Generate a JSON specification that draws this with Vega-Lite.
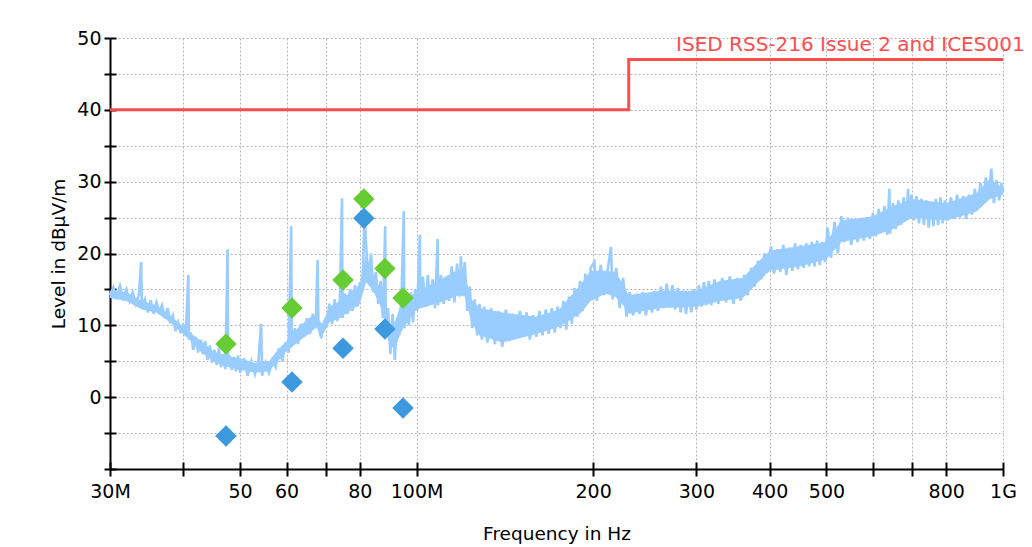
{
  "$schema": "https://vega.github.io/schema/vega-lite/v6.json",
  "width": 893,
  "height": 431,
  "autosize": {"type": "none"},
  "padding": {"left": 110, "top": 38, "right": 29, "bottom": 78},
  "background": "white",
  "config": {
    "view": {"stroke": null},
    "axis": {
      "domainColor": "black", "domainWidth": 2,
      "tickColor": "black", "tickWidth": 2,
      "labelFont": "DejaVu Sans", "labelFontSize": 19, "labelColor": "black",
      "titleFont": "DejaVu Sans", "titleFontSize": 18.5, "titleColor": "black", "titleFontWeight": "normal",
      "gridColor": "#b4b4b4", "gridDash": [2, 2], "gridWidth": 1
    }
  },
  "datasets": {
    "band": [
      {"f":30,"lo":13.8,"hi":14.8},{"f":32,"lo":13.4,"hi":14.6},{"f":34,"lo":12.2,"hi":13.4},{"f":36,"lo":11.8,"hi":12.8},{"f":38,"lo":10.4,"hi":11.4},{"f":39.5,"lo":9.2,"hi":10.2},{"f":41,"lo":8.0,"hi":9.0},{"f":43,"lo":6.2,"hi":7.8},{"f":45,"lo":5.0,"hi":6.4},{"f":47,"lo":4.3,"hi":5.8},{"f":50,"lo":3.8,"hi":5.4},{"f":53,"lo":3.4,"hi":4.8},{"f":56,"lo":3.6,"hi":5.0},{"f":58,"lo":5.0,"hi":6.6},{"f":60,"lo":6.4,"hi":7.8},{"f":63,"lo":7.8,"hi":9.8},{"f":66,"lo":9.0,"hi":11.2},{"f":67.5,"lo":9.8,"hi":11.2},{"f":69,"lo":8.6,"hi":10.2},{"f":71,"lo":10.4,"hi":12.6},{"f":74,"lo":11.0,"hi":13.4},{"f":77,"lo":12.0,"hi":14.6},{"f":80,"lo":13.0,"hi":15.6},{"f":82,"lo":16.0,"hi":20.0},{"f":84,"lo":15.0,"hi":17.0},{"f":86,"lo":13.4,"hi":15.8},{"f":88,"lo":11.4,"hi":12.8},{"f":90,"lo":7.0,"hi":10.0},{"f":92,"lo":7.0,"hi":10.6},{"f":94,"lo":9.0,"hi":13.0},{"f":96,"lo":10.2,"hi":13.8},{"f":100,"lo":12.2,"hi":14.6},{"f":110,"lo":13.2,"hi":16.4},{"f":118,"lo":14.2,"hi":17.8},{"f":121,"lo":14.0,"hi":17.0},{"f":124,"lo":10.4,"hi":13.6},{"f":128,"lo":8.6,"hi":12.4},{"f":140,"lo":7.6,"hi":11.8},{"f":160,"lo":8.8,"hi":11.2},{"f":175,"lo":9.8,"hi":12.2},{"f":190,"lo":11.6,"hi":15.6},{"f":198,"lo":13.4,"hi":17.6},{"f":210,"lo":14.4,"hi":17.6},{"f":218,"lo":14.0,"hi":17.4},{"f":225,"lo":12.8,"hi":15.8},{"f":230,"lo":11.6,"hi":14.2},{"f":260,"lo":12.4,"hi":14.8},{"f":300,"lo":12.6,"hi":14.8},{"f":330,"lo":13.4,"hi":16.2},{"f":360,"lo":13.8,"hi":16.6},{"f":380,"lo":15.8,"hi":18.6},{"f":400,"lo":17.6,"hi":20.4},{"f":450,"lo":18.2,"hi":21.0},{"f":500,"lo":19.2,"hi":21.6},{"f":530,"lo":21.6,"hi":24.6},{"f":600,"lo":22.4,"hi":25.2},{"f":650,"lo":23.4,"hi":26.6},{"f":700,"lo":25.0,"hi":27.6},{"f":800,"lo":24.6,"hi":27.0},{"f":900,"lo":25.8,"hi":28.4},{"f":950,"lo":27.6,"hi":30.4},{"f":1000,"lo":28.2,"hi":29.0}
    ],
    "spec": [
      {"f":30.0,"v":14.2},{"f":30.4,"v":15.3},{"f":30.8,"v":14.0},{"f":31.2,"v":15.5},{"f":31.6,"v":13.8},{"f":32.0,"v":15.0},{"f":32.4,"v":13.4},{"f":32.8,"v":14.6},{"f":33.2,"v":13.0},{"f":33.6,"v":14.2},{"f":33.9,"v":18.8},{"f":34.0,"v":12.5},{"f":34.4,"v":13.6},{"f":34.8,"v":11.8},{"f":35.2,"v":13.5},{"f":35.6,"v":11.6},{"f":36.0,"v":13.2},{"f":36.4,"v":11.9},{"f":36.8,"v":12.8},{"f":37.2,"v":11.0},{"f":37.6,"v":12.4},{"f":38.0,"v":10.6},{"f":38.4,"v":11.4},{"f":38.8,"v":9.2},{"f":39.2,"v":10.4},{"f":39.6,"v":8.9},{"f":40.0,"v":10.2},{"f":40.4,"v":8.5},{"f":40.8,"v":17.0},{"f":40.9,"v":8.0},{"f":41.2,"v":9.0},{"f":41.6,"v":6.6},{"f":42.0,"v":8.4},{"f":42.4,"v":6.2},{"f":42.8,"v":8.0},{"f":43.2,"v":6.0},{"f":43.6,"v":7.8},{"f":44.0,"v":5.2},{"f":44.4,"v":7.2},{"f":44.8,"v":4.8},{"f":45.2,"v":6.6},{"f":45.6,"v":4.5},{"f":46.0,"v":6.8},{"f":46.4,"v":4.2},{"f":46.8,"v":6.0},{"f":47.2,"v":3.9},{"f":47.6,"v":20.6},{"f":47.7,"v":4.5},{"f":48.0,"v":5.8},{"f":48.4,"v":3.8},{"f":48.8,"v":5.6},{"f":49.2,"v":3.6},{"f":49.6,"v":5.8},{"f":50.0,"v":3.4},
      {"f":50.75,"v":5.4},{"f":51.5,"v":3.0},{"f":52.25,"v":5.0},{"f":53.0,"v":3.2},{"f":53.75,"v":5.2},{"f":54.3,"v":10.2},{"f":54.5,"v":3.0},{"f":55.25,"v":4.8},{"f":56.0,"v":3.4},{"f":56.75,"v":5.2},{"f":57.5,"v":4.2},{"f":58.25,"v":6.8},{"f":59.0,"v":5.0},{"f":59.75,"v":7.6},{"f":60.5,"v":6.2},{"f":61.1,"v":23.8},{"f":61.25,"v":7.0},{"f":62.0,"v":9.6},{"f":62.75,"v":7.4},{"f":63.5,"v":10.2},{"f":64.25,"v":8.4},{"f":65.0,"v":11.0},{"f":65.75,"v":8.8},{"f":66.5,"v":11.6},{"f":67.25,"v":9.6},{"f":67.8,"v":19.1},{"f":68.0,"v":9.8},{"f":68.75,"v":8.2},{"f":69.5,"v":10.4},{"f":70.25,"v":10.0},{"f":71.0,"v":13.0},{"f":71.75,"v":10.2},{"f":72.5,"v":13.6},{"f":73.25,"v":10.6},{"f":74.0,"v":13.8},{"f":74.6,"v":27.7},{"f":74.75,"v":11.0},{"f":75.5,"v":14.4},{"f":76.25,"v":11.6},{"f":77.0,"v":15.0},{"f":77.75,"v":12.0},{"f":78.5,"v":15.6},{"f":79.25,"v":12.6},{"f":80.0,"v":16.0},
      {"f":80.8,"v":14.8},{"f":81.5,"v":25.5},{"f":82.0,"v":21.2},{"f":82.8,"v":16.0},{"f":83.6,"v":20.0},{"f":84.4,"v":14.6},{"f":85.2,"v":17.4},{"f":86.0,"v":13.0},{"f":86.8,"v":16.2},{"f":87.6,"v":11.0},{"f":88.4,"v":23.8},{"f":88.6,"v":9.0},{"f":89.4,"v":12.4},{"f":90.2,"v":6.0},{"f":91.0,"v":11.6},{"f":91.8,"v":5.2},{"f":92.6,"v":11.0},{"f":93.4,"v":8.6},{"f":94.2,"v":13.4},{"f":95.1,"v":25.9},{"f":95.3,"v":9.6},{"f":96.2,"v":14.2},{"f":97.0,"v":10.0},{"f":97.8,"v":14.6},{"f":98.6,"v":10.4},{"f":99.4,"v":15.0},{"f":100.2,"v":12.0},{"f":101.3,"v":22.6},{"f":101.5,"v":12.6},{"f":102.5,"v":16.8},{"f":103.5,"v":12.6},{"f":104.5,"v":17.0},{"f":105.5,"v":13.0},{"f":106.5,"v":16.4},{"f":107.5,"v":12.4},{"f":108.6,"v":22.0},{"f":108.8,"v":12.8},{"f":110.0,"v":17.0},{"f":111.2,"v":13.0},{"f":112.4,"v":16.6},{"f":113.6,"v":13.4},{"f":114.8,"v":18.2},{"f":116.0,"v":13.2},{"f":117.2,"v":18.6},{"f":118.4,"v":14.0},{"f":119.0,"v":19.6},{"f":119.6,"v":15.0},{"f":120.8,"v":18.8},{"f":122.0,"v":12.0},{"f":123.2,"v":15.4},{"f":124.4,"v":9.6},{"f":125.6,"v":13.6},{"f":126.8,"v":8.6},{"f":128.0,"v":13.0},{"f":129.2,"v":8.0},
      {"f":130.4,"v":12.6},{"f":132,"v":7.6},{"f":134,"v":12.4},{"f":136,"v":7.4},{"f":138,"v":12.0},{"f":140,"v":7.0},{"f":142,"v":12.2},{"f":144,"v":7.8},{"f":146,"v":11.6},{"f":148,"v":8.2},{"f":150,"v":12.0},{"f":152,"v":8.6},{"f":154,"v":11.8},{"f":156,"v":8.0},{"f":158,"v":11.4},{"f":160,"v":8.4},{"f":162,"v":12.0},{"f":164,"v":8.6},{"f":166,"v":12.2},{"f":168,"v":8.8},{"f":170,"v":12.4},{"f":172,"v":9.0},{"f":174,"v":12.6},{"f":176,"v":9.6},{"f":178,"v":13.4},{"f":180,"v":9.4},{"f":182,"v":14.0},{"f":184,"v":10.2},{"f":186,"v":15.2},{"f":188,"v":11.2},{"f":190,"v":16.2},{"f":192,"v":12.0},{"f":194,"v":17.2},{"f":196,"v":13.2},{"f":198,"v":18.0},
      {"f":201,"v":18.8},{"f":203,"v":13.4},{"f":206,"v":18.4},{"f":209,"v":14.2},{"f":212,"v":18.0},{"f":214.5,"v":20.9},{"f":216,"v":13.6},{"f":219,"v":18.0},{"f":222,"v":12.4},{"f":225,"v":16.6},{"f":228,"v":11.2},{"f":231,"v":14.6},{"f":234,"v":11.4},{"f":237,"v":14.4},{"f":240,"v":11.6},{"f":243,"v":14.6},{"f":246,"v":11.4},{"f":249,"v":14.2},{"f":252,"v":11.8},{"f":255,"v":14.8},{"f":258,"v":12.0},{"f":261,"v":15.4},{"f":264,"v":12.4},{"f":267,"v":15.8},{"f":270,"v":12.6},{"f":273,"v":15.6},{"f":276,"v":12.2},{"f":279,"v":15.2},{"f":282,"v":11.8},{"f":285,"v":14.8},{"f":288,"v":11.6},{"f":291,"v":14.6},{"f":294,"v":11.8},{"f":297,"v":15.0},{"f":300,"v":12.2},{"f":303,"v":15.6},{"f":306,"v":12.6},{"f":309,"v":16.0},{"f":312,"v":12.8},{"f":315,"v":16.2},{"f":318,"v":12.8},
      {"f":322,"v":16.4},{"f":327,"v":13.0},{"f":332,"v":16.6},{"f":337,"v":13.2},{"f":342,"v":16.8},{"f":347,"v":13.0},{"f":352,"v":16.6},{"f":357,"v":13.4},{"f":362,"v":17.0},{"f":367,"v":14.2},{"f":372,"v":18.0},{"f":377,"v":15.4},{"f":382,"v":19.0},{"f":387,"v":16.4},{"f":392,"v":20.0},{"f":397,"v":17.4},{"f":402,"v":21.0},{"f":407,"v":17.2},{"f":412,"v":20.6},{"f":417,"v":17.4},{"f":422,"v":21.2},{"f":427,"v":17.0},{"f":432,"v":20.8},{"f":437,"v":17.6},{"f":442,"v":21.4},{"f":447,"v":17.8},{"f":452,"v":21.2},{"f":457,"v":18.0},{"f":462,"v":21.4},{"f":467,"v":18.2},{"f":472,"v":21.6},{"f":477,"v":18.2},{"f":482,"v":21.8},{"f":487,"v":18.4},{"f":492,"v":21.6},{"f":497,"v":18.8},
      {"f":502,"v":23.6},{"f":509,"v":19.4},{"f":516,"v":24.4},{"f":523,"v":20.0},{"f":530,"v":25.2},{"f":537,"v":21.6},{"f":544,"v":25.0},{"f":551,"v":21.2},{"f":558,"v":24.6},{"f":565,"v":21.6},{"f":572,"v":24.8},{"f":579,"v":21.8},{"f":586,"v":24.6},{"f":593,"v":22.0},{"f":600,"v":25.6},{"f":607,"v":22.4},{"f":614,"v":26.2},{"f":621,"v":23.0},{"f":628,"v":26.6},{"f":635,"v":22.6},{"f":640,"v":29.0},{"f":642,"v":22.8},{"f":649,"v":27.0},{"f":656,"v":23.4},{"f":663,"v":27.4},{"f":670,"v":24.0},{"f":677,"v":27.8},{"f":684,"v":24.6},{"f":689,"v":29.0},{"f":691,"v":24.8},{"f":698,"v":28.2},{"f":705,"v":24.6},{"f":712,"v":28.0},{"f":719,"v":24.2},{"f":726,"v":27.6},{"f":733,"v":24.0},{"f":740,"v":27.4},{"f":747,"v":23.6},{"f":754,"v":27.2},{"f":761,"v":23.8},{"f":768,"v":27.6},{"f":775,"v":24.0},{"f":782,"v":27.8},{"f":789,"v":24.2},{"f":796,"v":27.4},
      {"f":805,"v":24.6},{"f":815,"v":27.8},{"f":825,"v":24.8},{"f":835,"v":28.2},{"f":845,"v":25.0},{"f":855,"v":28.0},{"f":865,"v":24.8},{"f":875,"v":28.2},{"f":885,"v":25.4},{"f":895,"v":29.0},{"f":905,"v":26.2},{"f":915,"v":29.8},{"f":925,"v":27.0},{"f":935,"v":30.6},{"f":945,"v":27.6},{"f":955,"v":31.8},{"f":965,"v":27.0},{"f":975,"v":30.2},{"f":985,"v":27.4},{"f":993,"v":29.8},{"f":1000,"v":28.6}
    ],
    "lim": [
      {"i":0,"f":30,"v":40},{"i":1,"f":230,"v":40},{"i":2,"f":230,"v":47},{"i":3,"f":1000,"v":47}
    ],
    "qp": [
      {"f":47.3,"v":7.4},{"f":61.3,"v":12.4},{"f":74.9,"v":16.3},{"f":81.3,"v":27.6},{"f":88.3,"v":17.9},{"f":94.8,"v":13.8}
    ],
    "av": [
      {"f":47.3,"v":-5.4},{"f":61.3,"v":2.1},{"f":74.9,"v":6.8},{"f":81.3,"v":24.9},{"f":88.3,"v":9.5},{"f":94.8,"v":-1.5}
    ],
    "lbl": [
      {"f":277,"v":49,"t":"ISED RSS-216 Issue 2 and ICES001"}
    ]
  },
  "resolve": {"axis": {"x": "independent", "y": "independent"}},
  "layer": [
    {
      "data": {"name": "band"},
      "mark": {"type": "area", "color": "#99ccff", "opacity": 1},
      "encoding": {
        "x": {
          "field": "f", "type": "quantitative",
          "scale": {"type": "log", "domain": [30, 1000], "nice": false},
          "axis": {
            "orient": "bottom",
            "values": [30, 40, 50, 60, 70, 80, 100, 200, 300, 400, 500, 600, 700, 800, 1000],
            "labelExpr": "datum.value==30?'30M':datum.value==100?'100M':datum.value==1000?'1G':(datum.value==40||datum.value==70||datum.value==600||datum.value==700)?'':''+datum.value",
            "labelOverlap": false, "labelBound": false, "labelFlush": false,
            "tickSize": 7, "labelPadding": 6,
            "grid": true,
            "title": "Frequency in Hz",
            "titleX": 446.5, "titleY": 64, "titleBaseline": "middle", "titleAlign": "center"
          }
        },
        "y": {
          "field": "lo", "type": "quantitative",
          "scale": {"domain": [-10, 50], "nice": false, "zero": false},
          "axis": {
            "orient": "left",
            "values": [-10, -5, 0, 5, 10, 15, 20, 25, 30, 35, 40, 45, 50],
            "labelExpr": "(datum.value>=0 && datum.value%10==0)?''+datum.value:''",
            "labelOverlap": false, "labelBound": false, "labelFlush": false,
            "tickSize": 6, "labelPadding": 3,
            "grid": true,
            "title": "Level in dBµV/m",
            "titleX": -52, "titleY": 215.5, "titleAngle": 270, "titleBaseline": "middle", "titleAlign": "center"
          }
        },
        "y2": {"field": "hi"}
      }
    },
    {
      "data": {"name": "spec"},
      "mark": {"type": "line", "color": "#99ccff", "strokeWidth": 2.6},
      "encoding": {
        "x": {"field": "f", "type": "quantitative", "axis": null},
        "y": {"field": "v", "type": "quantitative", "axis": null}
      }
    },
    {
      "data": {"name": "lim"},
      "mark": {"type": "line", "color": "#ff4c4c", "strokeWidth": 3},
      "encoding": {
        "x": {
          "field": "f", "type": "quantitative",
          "axis": {"orient": "bottom", "values": [30, 40, 50, 60, 70, 80, 100, 200, 300, 400, 500, 600, 700, 800, 1000], "labels": false, "domain": false, "grid": false, "tickSize": -7, "title": null}
        },
        "y": {
          "field": "v", "type": "quantitative",
          "axis": {"orient": "left", "values": [-10, -5, 0, 5, 10, 15, 20, 25, 30, 35, 40, 45, 50], "labels": false, "domain": false, "grid": false, "tickSize": -6, "title": null}
        },
        "order": {"field": "i", "type": "quantitative"}
      }
    },
    {
      "data": {"name": "qp"},
      "mark": {"type": "point", "shape": "diamond", "filled": true, "opacity": 1, "size": 460, "color": "#66cc33"},
      "encoding": {
        "x": {"field": "f", "type": "quantitative", "axis": null},
        "y": {"field": "v", "type": "quantitative", "axis": null}
      }
    },
    {
      "data": {"name": "av"},
      "mark": {"type": "point", "shape": "diamond", "filled": true, "opacity": 1, "size": 460, "color": "#3d99dd"},
      "encoding": {
        "x": {"field": "f", "type": "quantitative", "axis": null},
        "y": {"field": "v", "type": "quantitative", "axis": null}
      }
    },
    {
      "data": {"name": "lbl"},
      "mark": {"type": "text", "color": "#ff4c4c", "font": "DejaVu Sans", "fontSize": 20, "align": "left", "baseline": "middle"},
      "encoding": {
        "x": {"field": "f", "type": "quantitative", "axis": null},
        "y": {"field": "v", "type": "quantitative", "axis": null},
        "text": {"field": "t"}
      }
    }
  ]
}
